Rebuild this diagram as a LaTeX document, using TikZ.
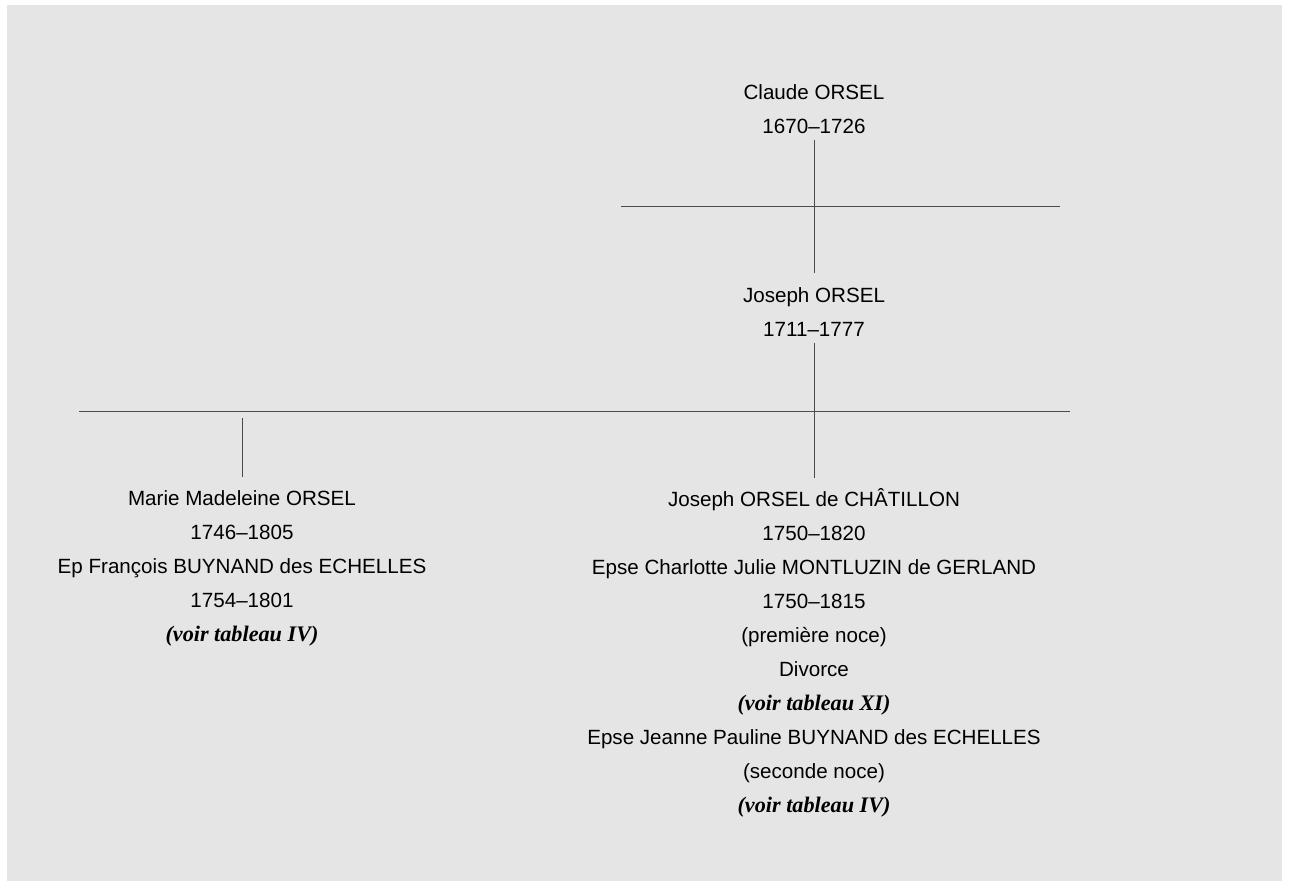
\documentclass[tikz,border=0pt]{standalone}
\usepackage{fontspec}
\setmainfont{Liberation Sans}
\newfontfamily\refserif{Liberation Serif}
\usetikzlibrary{positioning}
\definecolor{paper}{HTML}{E5E5E5}
\definecolor{linkgray}{HTML}{4A4A4A}
\tikzset{
    person/.style={align=center, inner sep=0pt, text=black,
        font=\fontsize{20.6}{34}\selectfont},
    link/.style={draw=linkgray, line width=1pt}
}
\newcommand{\voir}[1]{{\refserif\bfseries\itshape\fontsize{22.2}{34}\selectfont (voir tableau #1)}}

\begin{document}
\begin{tikzpicture}[x=1pt, y=-1pt, on grid]
      \useasboundingbox (0,0) rectangle (1289,881);
      \fill[paper] (7,5) rectangle (1282,881);

      \node[person] (claude) at (814,109) {Claude ORSEL\\1670--1726};
      \node[person] (joseph) [below = 203pt of claude] {Joseph ORSEL\\1711--1777};
      \node[person] (chatillon) [below = 341pt of joseph]
        {Joseph ORSEL de CHÂTILLON\\1750--1820\\
         Epse Charlotte Julie MONTLUZIN de GERLAND\\1750--1815\\
         (première noce)\\Divorce\\\voir{XI}\\
         Epse Jeanne Pauline BUYNAND des ECHELLES\\(seconde noce)\\\voir{IV}};
      \node[person] (marie) [below left = 256pt and 572pt of joseph]
        {Marie Madeleine ORSEL\\1746--1805\\
         Ep François BUYNAND des ECHELLES\\1754--1801\\\voir{IV}};

      % bars between generations
      \coordinate (bar1w) at (621,206);
      \coordinate (bar1e) at (1060,206);
      \coordinate (bar2w) at (79,411);
      \coordinate (bar2e) at (1070,411);
      \coordinate (drop) at (marie.north |- 0,418);

      \path[link]
        (bar1w) -- (bar1e)
        (bar2w) -- (bar2e)
        ([yshift=-6pt]claude.south) -- ([yshift=14pt]joseph.north)
        ([yshift=-6pt]joseph.south) -- ([yshift=10pt]chatillon.north)
        (drop) -- ([yshift=13pt]marie.north);
\end{tikzpicture}
\end{document}
